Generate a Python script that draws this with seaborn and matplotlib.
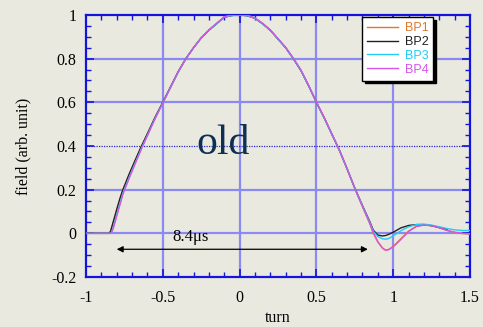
import numpy as np
import pandas as pd
import matplotlib
matplotlib.use("Agg")
import matplotlib.pyplot as plt
from matplotlib.ticker import MultipleLocator, FixedLocator
from matplotlib.lines import Line2D
import seaborn as sns

# ---- data ----
turn = [-1.0, -0.9, -0.85, -0.84, -0.83, -0.82, -0.80, -0.78, -0.76, -0.72,
        -0.68, -0.64, -0.60, -0.55, -0.50, -0.45, -0.40, -0.35, -0.30, -0.25,
        -0.20, -0.15, -0.10, -0.05, 0.0, 0.05, 0.10, 0.15, 0.20, 0.25,
        0.30, 0.35, 0.40, 0.45, 0.50, 0.55, 0.60, 0.65, 0.70, 0.75,
        0.80, 0.85, 0.87, 0.90, 0.93, 0.95, 0.97, 1.00, 1.05, 1.10,
        1.15, 1.20, 1.25, 1.30, 1.35, 1.40, 1.45, 1.50]

bp1 = [0.0, 0.0, 0.0, 0.005, 0.028, 0.052, 0.10, 0.15, 0.195, 0.265,
       0.33, 0.395, 0.455, 0.53, 0.60, 0.67, 0.74, 0.80, 0.85, 0.895,
       0.93, 0.96, 0.99, 0.998, 1.0, 0.997, 0.985, 0.96, 0.93, 0.89,
       0.85, 0.80, 0.745, 0.675, 0.60, 0.53, 0.455, 0.38, 0.295, 0.205,
       0.122, 0.04, 0.0, -0.04, -0.068, -0.077, -0.074, -0.06, -0.025, 0.01,
       0.032, 0.038, 0.035, 0.025, 0.013, 0.004, -0.001, -0.003]

bp2 = [0.0, 0.0, 0.0, 0.01, 0.035, 0.06, 0.11, 0.158, 0.20, 0.27,
       0.335, 0.398, 0.457, 0.532, 0.60, 0.67, 0.74, 0.80, 0.85, 0.895,
       0.93, 0.96, 0.99, 0.998, 1.0, 0.997, 0.985, 0.96, 0.93, 0.89,
       0.85, 0.80, 0.745, 0.675, 0.60, 0.53, 0.455, 0.38, 0.295, 0.207,
       0.127, 0.05, 0.015, -0.008, -0.012, -0.01, -0.005, 0.005, 0.025, 0.036,
       0.04, 0.04, 0.035, 0.027, 0.018, None, None, None]

bp3 = [0.0, 0.0, 0.0, 0.0, 0.012, 0.035, 0.085, 0.135, 0.183, 0.255,
       0.322, 0.388, 0.45, 0.527, 0.598, 0.668, 0.738, 0.80, 0.85, 0.895,
       0.93, 0.96, 0.99, 0.998, 1.0, 0.997, 0.985, 0.96, 0.93, 0.89,
       0.85, 0.80, 0.745, 0.675, 0.60, 0.53, 0.455, 0.38, 0.295, 0.206,
       0.125, 0.046, 0.01, -0.015, -0.025, -0.027, -0.024, -0.012, 0.012, 0.03,
       0.04, 0.042, 0.038, 0.03, 0.022, 0.016, 0.013, 0.013]

bp4 = [0.0, 0.0, 0.0, 0.0, 0.008, 0.028, 0.078, 0.128, 0.178, 0.25,
       0.318, 0.385, 0.447, 0.525, 0.596, 0.667, 0.738, 0.80, 0.85, 0.896,
       0.932, 0.962, 0.992, 1.0, 1.0, 0.999, 0.987, 0.962, 0.932, 0.892,
       0.852, 0.802, 0.747, 0.677, 0.602, 0.532, 0.457, 0.382, 0.297, 0.207,
       0.124, 0.042, 0.005, -0.038, -0.066, -0.077, -0.075, -0.062, -0.028, 0.008,
       0.031, 0.038, 0.035, 0.026, 0.014, 0.005, 0.0, -0.002]

series_names = ["BP1", "BP2", "BP3", "BP4"]
series_colors = ["#e0782a", "#222222", "#22ccf5", "#d455e6"]

x_ticks = [-1, -0.5, 0, 0.5, 1, 1.5]
x_ticklabels = ["-1", "-0.5", "0", "0.5", "1", "1.5"]
y_ticks = [-0.2, 0, 0.2, 0.4, 0.6, 0.8, 1]
y_ticklabels = ["-0.2", "0", "0.2", "0.4", "0.6", "0.8", "1"]

# ---- build long-form table ----
rows = []
for name, vals in zip(series_names, [bp1, bp2, bp3, bp4]):
    for xv, yv in zip(turn, vals):
        if yv is not None:
            rows.append({"turn": xv, "field": yv, "probe": name})
df = pd.DataFrame(rows)

# ---- styling ----
bg = "#eae9df"
plt.rcParams["font.family"] = ["Liberation Serif", "DejaVu Serif"]
plt.rcParams["axes.unicode_minus"] = False

fig = plt.figure(figsize=(4.83, 3.27), dpi=100, facecolor=bg)
ax = fig.add_axes([86 / 483, 50 / 327, 384 / 483, 262 / 327])
ax.set_facecolor(bg)

spine_c = "#1414dc"
grid_c = "#8a8af2"

ax.set_xlim(-1, 1.5)
ax.set_ylim(-0.2, 1)

# grid
for gx in [-0.5, 0, 0.5, 1]:
    ax.axvline(gx, color=grid_c, lw=1.6, zorder=1)
for gy in [0, 0.2, 0.6, 0.8]:
    ax.axhline(gy, color=grid_c, lw=1.6, zorder=1)
ax.axhline(0.4, color="#2a2ad0", lw=0.9, ls=(0, (1, 1)), zorder=1)

sns.lineplot(data=df, x="turn", y="field", hue="probe", hue_order=series_names,
             palette=series_colors, estimator=None, sort=False, lw=1.0,
             ax=ax, legend=False, zorder=3)

# spines & ticks
for s in ax.spines.values():
    s.set_color(spine_c)
    s.set_linewidth(1.6)
ax.xaxis.set_major_locator(FixedLocator(x_ticks))
ax.yaxis.set_major_locator(FixedLocator(y_ticks))
ax.set_xticklabels(x_ticklabels)
ax.set_yticklabels(y_ticklabels)
ax.xaxis.set_minor_locator(MultipleLocator(0.1))
ax.yaxis.set_minor_locator(MultipleLocator(0.05))
ax.tick_params(which="both", direction="in", top=True, right=True,
               color=spine_c, labelcolor="black", labelsize=11.5)
ax.tick_params(which="major", length=6, width=1.2)
ax.tick_params(which="minor", length=3.5, width=1.0)
ax.tick_params(axis="x", which="major", pad=9)
ax.tick_params(axis="y", which="major", pad=7)

ax.set_xlabel("turn", fontsize=11.5, labelpad=3)
ax.set_ylabel("field (arb. unit)", fontsize=11.5, labelpad=14)

# annotations
ax.text(-0.11, 0.363, "old", fontsize=30, color="#0d2f52", ha="center",
        va="baseline", zorder=4)
ax.text(-0.44, -0.035, "8.4\u03bcs", fontsize=12, color="black",
        ha="left", va="baseline", zorder=4)
ax.annotate("", xy=(-0.80, -0.073), xytext=(0.835, -0.073),
            arrowprops=dict(arrowstyle="<|-|>", color="black", lw=0.9,
                            mutation_scale=9, shrinkA=0, shrinkB=0), zorder=4)

# legend
handles = [Line2D([], [], color=c, lw=1.0) for c in series_colors]
leg = fig.legend(handles, series_names, loc="upper left",
                 bbox_to_anchor=(362 / 483, 1 - 17 / 327),
                 bbox_transform=fig.transFigure, borderaxespad=0,
                 frameon=True, fancybox=False, edgecolor="black",
                 facecolor="white", framealpha=1,
                 shadow={"color": "black", "alpha": 1},
                 prop={"family": "Liberation Sans", "size": 9},
                 handlelength=2.5, handletextpad=0.5, labelspacing=0.15,
                 borderpad=0.4)
leg.get_frame().set_linewidth(1.0)
for t, c in zip(leg.get_texts(), series_colors):
    t.set_color(c)

fig.savefig("out.png", dpi=100, facecolor=bg)
